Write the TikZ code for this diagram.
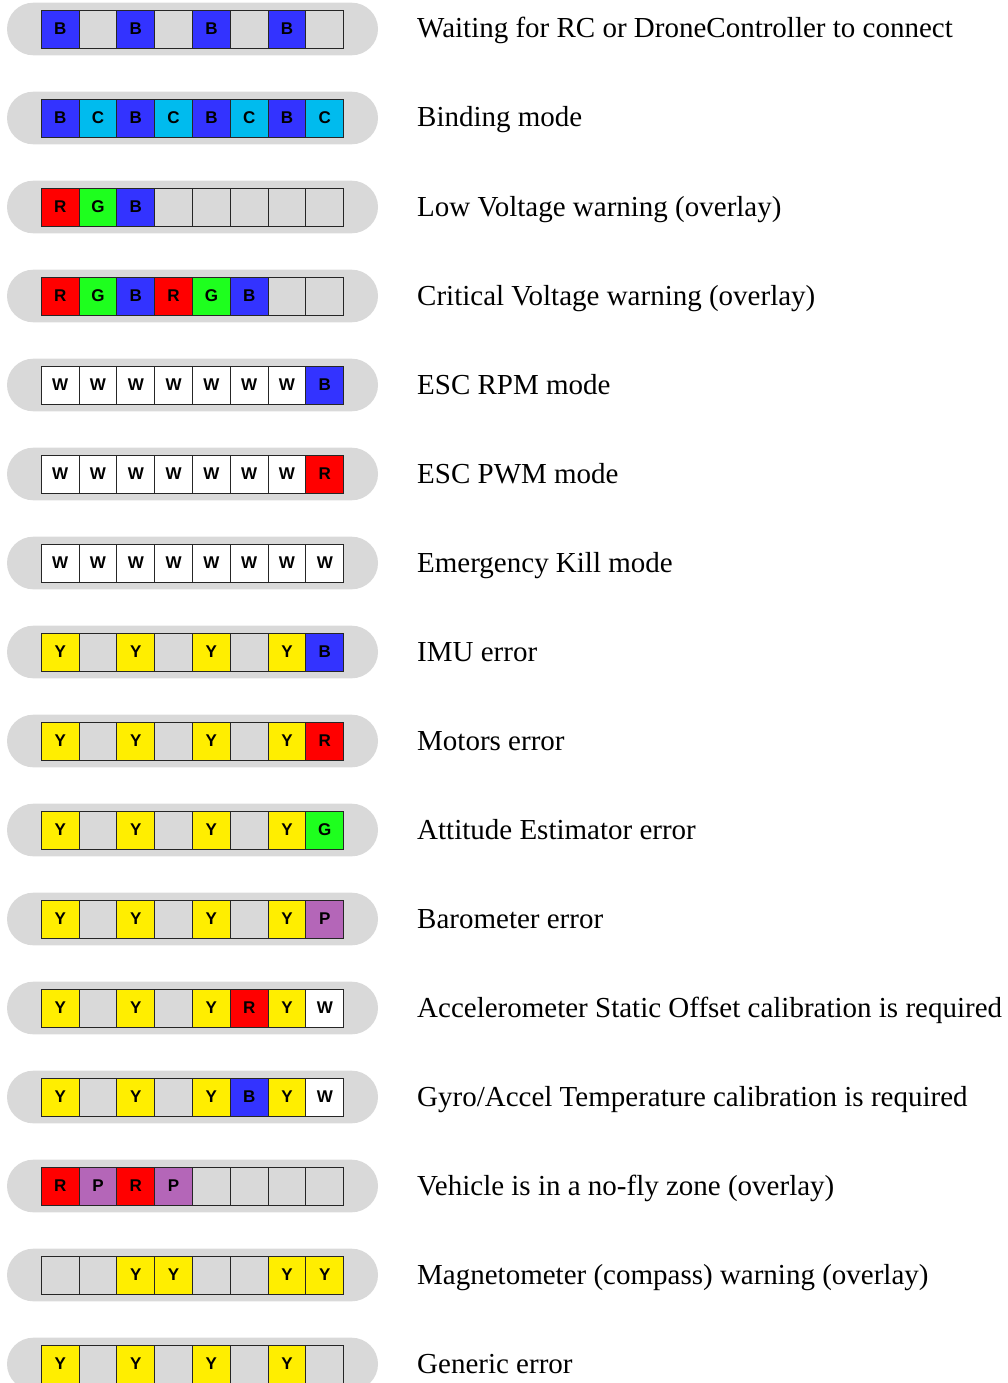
\documentclass[tikz,border=0pt]{standalone}
\usepackage{fontspec}
\setmainfont{Liberation Serif}
\newfontfamily\ledfont{Liberation Sans}
\definecolor{led0}{HTML}{D9D9D9}
\definecolor{ledB}{HTML}{3333FF}
\definecolor{ledC}{HTML}{00BBEE}
\definecolor{ledR}{HTML}{FF0000}
\definecolor{ledG}{HTML}{1EFF1E}
\definecolor{ledY}{HTML}{FFEE00}
\definecolor{ledP}{HTML}{B466B8}
\definecolor{ledW}{HTML}{FFFFFF}
\tikzset{
  pill/.style={fill=led0,rounded corners=26.3pt,minimum width=371pt,minimum height=52.6pt,inner sep=0pt},
  led/.style={draw=black!85,line width=0.9pt,minimum width=37.8pt,minimum height=38pt,inner sep=0pt,
    font=\ledfont\bfseries\fontsize{17}{19}\selectfont},
  caption/.style={anchor=base west,inner sep=0pt,font=\fontsize{29}{33}\selectfont}
}
\newcommand\ledtxt[1]{\if0#1\else#1\fi}

\begin{document}
\begin{tikzpicture}[x=1pt,y=-1pt]
\clip(0,0)rectangle(1007,1383);
% row 1
\node[pill](p1)at(192.5,29){};
\foreach \c [count=\i] in {B,0,B,0,B,0,B,0}\node[led,fill=led\c](r1c\i)at(22.4+37.8*\i,29){\ledtxt\c};
\node[caption](l1)at(417,38){Waiting for RC or DroneController to connect};
% row 2
\node[pill](p2)at(192.5,118){};
\foreach \c [count=\i] in {B,C,B,C,B,C,B,C}\node[led,fill=led\c](r2c\i)at(22.4+37.8*\i,118){\ledtxt\c};
\node[caption](l2)at(417,127){Binding mode};
% row 3
\node[pill](p3)at(192.5,207){};
\foreach \c [count=\i] in {R,G,B,0,0,0,0,0}\node[led,fill=led\c](r3c\i)at(22.4+37.8*\i,207){\ledtxt\c};
\node[caption](l3)at(417,216){Low Voltage warning (overlay)};
% row 4
\node[pill](p4)at(192.5,296){};
\foreach \c [count=\i] in {R,G,B,R,G,B,0,0}\node[led,fill=led\c](r4c\i)at(22.4+37.8*\i,296){\ledtxt\c};
\node[caption](l4)at(417,305){Critical Voltage warning (overlay)};
% row 5
\node[pill](p5)at(192.5,385){};
\foreach \c [count=\i] in {W,W,W,W,W,W,W,B}\node[led,fill=led\c](r5c\i)at(22.4+37.8*\i,385){\ledtxt\c};
\node[caption](l5)at(417,394){ESC RPM mode};
% row 6
\node[pill](p6)at(192.5,474){};
\foreach \c [count=\i] in {W,W,W,W,W,W,W,R}\node[led,fill=led\c](r6c\i)at(22.4+37.8*\i,474){\ledtxt\c};
\node[caption](l6)at(417,483){ESC PWM mode};
% row 7
\node[pill](p7)at(192.5,563){};
\foreach \c [count=\i] in {W,W,W,W,W,W,W,W}\node[led,fill=led\c](r7c\i)at(22.4+37.8*\i,563){\ledtxt\c};
\node[caption](l7)at(417,572){Emergency Kill mode};
% row 8
\node[pill](p8)at(192.5,652){};
\foreach \c [count=\i] in {Y,0,Y,0,Y,0,Y,B}\node[led,fill=led\c](r8c\i)at(22.4+37.8*\i,652){\ledtxt\c};
\node[caption](l8)at(417,661){IMU error};
% row 9
\node[pill](p9)at(192.5,741){};
\foreach \c [count=\i] in {Y,0,Y,0,Y,0,Y,R}\node[led,fill=led\c](r9c\i)at(22.4+37.8*\i,741){\ledtxt\c};
\node[caption](l9)at(417,750){Motors error};
% row 10
\node[pill](p10)at(192.5,830){};
\foreach \c [count=\i] in {Y,0,Y,0,Y,0,Y,G}\node[led,fill=led\c](r10c\i)at(22.4+37.8*\i,830){\ledtxt\c};
\node[caption](l10)at(417,839){Attitude Estimator error};
% row 11
\node[pill](p11)at(192.5,919){};
\foreach \c [count=\i] in {Y,0,Y,0,Y,0,Y,P}\node[led,fill=led\c](r11c\i)at(22.4+37.8*\i,919){\ledtxt\c};
\node[caption](l11)at(417,928){Barometer error};
% row 12
\node[pill](p12)at(192.5,1008){};
\foreach \c [count=\i] in {Y,0,Y,0,Y,R,Y,W}\node[led,fill=led\c](r12c\i)at(22.4+37.8*\i,1008){\ledtxt\c};
\node[caption](l12)at(417,1017){Accelerometer Static Offset calibration is required};
% row 13
\node[pill](p13)at(192.5,1097){};
\foreach \c [count=\i] in {Y,0,Y,0,Y,B,Y,W}\node[led,fill=led\c](r13c\i)at(22.4+37.8*\i,1097){\ledtxt\c};
\node[caption](l13)at(417,1106){Gyro/Accel Temperature calibration is required};
% row 14
\node[pill](p14)at(192.5,1186){};
\foreach \c [count=\i] in {R,P,R,P,0,0,0,0}\node[led,fill=led\c](r14c\i)at(22.4+37.8*\i,1186){\ledtxt\c};
\node[caption](l14)at(417,1195){Vehicle is in a no-fly zone (overlay)};
% row 15
\node[pill](p15)at(192.5,1275){};
\foreach \c [count=\i] in {0,0,Y,Y,0,0,Y,Y}\node[led,fill=led\c](r15c\i)at(22.4+37.8*\i,1275){\ledtxt\c};
\node[caption](l15)at(417,1284){Magnetometer (compass) warning (overlay)};
% row 16
\node[pill](p16)at(192.5,1364){};
\foreach \c [count=\i] in {Y,0,Y,0,Y,0,Y,0}\node[led,fill=led\c](r16c\i)at(22.4+37.8*\i,1364){\ledtxt\c};
\node[caption](l16)at(417,1373){Generic error};
\end{tikzpicture}
\end{document}
